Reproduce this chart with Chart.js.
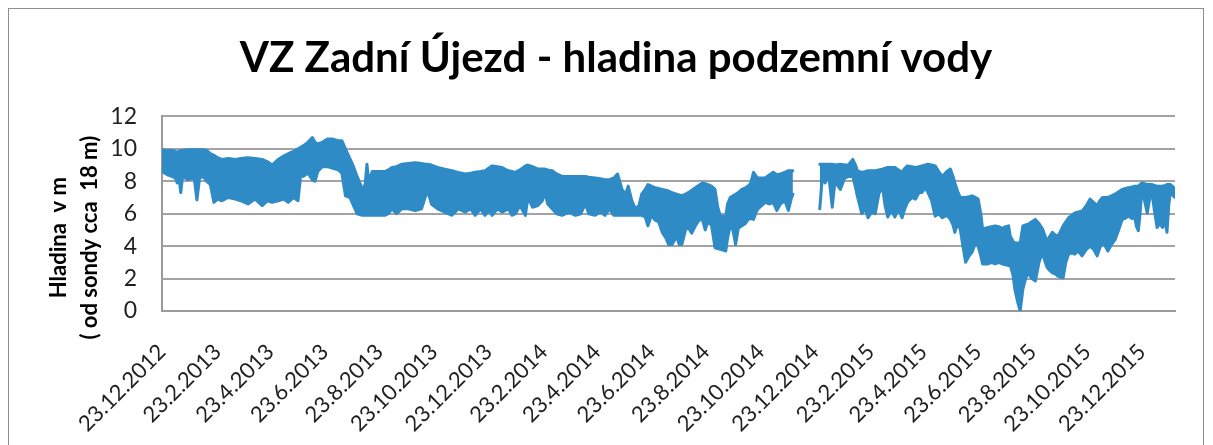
<!DOCTYPE html>
<html>
<head>
<meta charset="utf-8">
<script src="https://cdn.jsdelivr.net/npm/chart.js@4.4.1/dist/chart.umd.min.js"></script>
<style>
  html, body { margin: 0; padding: 0; background: #fff; }
  #wrap { width: 1213px; height: 445px; }
</style>
</head>
<body>
<div id="wrap"><canvas id="hladina" width="1213" height="445"></canvas></div>
<script>
// osa x: popisky po dvou mesicich
var tickLabels = ['23.12.2012', '23.2.2013', '23.4.2013', '23.6.2013', '23.8.2013', '23.10.2013',
    '23.12.2013', '23.2.2014', '23.4.2014', '23.6.2014', '23.8.2014', '23.10.2014',
    '23.12.2014', '23.2.2015', '23.4.2015', '23.6.2015', '23.8.2015', '23.10.2015', '23.12.2015'];

// dny od 23.12.2012, 720 = vypadek mereni
var days = [0, 6, 11, 15, 17, 19, 21, 23, 29, 36, 39, 42, 46, 50, 54, 58, 62, 67, 74, 82,
    88, 96, 104, 112, 118, 123, 130, 136, 141, 147, 152, 155, 158, 163, 168, 171, 174, 179, 185, 191,
    197, 201, 205, 210, 214, 218, 224, 227, 229, 231, 235, 242, 249, 253, 257, 262, 268, 275, 283, 290,
    294, 297, 301, 308, 316, 324, 331, 339, 345, 350, 356, 361, 365, 369, 375, 380, 387, 391, 395, 400,
    406, 409, 414, 420, 425, 428, 431, 436, 441, 447, 455, 462, 468, 473, 477, 484, 490, 495, 500, 505,
    509, 512, 514, 518, 521, 525, 529, 533, 536, 540, 543, 547, 551, 555, 559, 563, 566, 570, 575, 578,
    581, 585, 588, 592, 596, 600, 604, 607, 610, 614, 618, 621, 624, 627, 630, 632, 635, 638, 641, 644,
    648, 652, 655, 658, 661, 664, 666, 670, 674, 679, 683, 687, 691, 696, 700, 703, 705, 720, 735, 738,
    741, 745, 749, 752, 758, 763, 767, 772, 775, 777, 782, 786, 789, 793, 797, 801, 805, 808, 811, 815,
    819, 823, 827, 830, 833, 838, 842, 846, 849, 853, 856, 860, 864, 868, 872, 877, 881, 884, 886, 889,
    892, 895, 898, 902, 905, 909, 912, 915, 917, 923, 927, 931, 935, 939, 943, 946, 948, 951, 953, 956,
    959, 962, 965, 968, 972, 976, 980, 984, 987, 989, 992, 995, 998, 1001, 1004, 1007, 1010, 1013, 1017, 1020,
    1024, 1028, 1033, 1037, 1041, 1045, 1048, 1051, 1054, 1057, 1061, 1065, 1069, 1073, 1076, 1080, 1084, 1087, 1089, 1091,
    1093, 1095, 1098, 1101, 1104, 1106, 1109, 1112, 1115, 1118, 1121, 1123, 1125, 1127, 1130, 1132];

// horni obalka hladiny (m)
var hladinaMax = [9.95, 9.9, 9.9, 9.85, 9.8, 9.85, 9.9, 9.9, 9.95, 9.95, 9.95, 9.95, 9.95, 9.9, 9.7, 9.6, 9.45, 9.35, 9.4, 9.35,
    9.4, 9.45, 9.4, 9.35, 9.2, 9.0, 9.35, 9.55, 9.7, 9.85, 10.0, 10.1, 10.2, 10.4, 10.7, 10.4, 10.3, 10.4, 10.6, 10.6,
    10.5, 10.5, 10.0, 9.4, 8.9, 8.3, 7.5, 7.8, 9.05, 8.0, 8.6, 8.6, 8.6, 8.7, 8.85, 8.9, 9.05, 9.1, 9.15, 9.1,
    9.05, 9.05, 9.0, 8.85, 8.75, 8.65, 8.55, 8.45, 8.5, 8.55, 8.6, 8.65, 8.8, 8.95, 8.9, 8.85, 8.65, 8.6, 8.55, 8.7,
    8.95, 9.0, 8.9, 8.75, 8.75, 8.75, 8.7, 8.65, 8.45, 8.3, 8.3, 8.3, 8.3, 8.3, 8.25, 8.2, 8.15, 8.1, 8.1, 8.2,
    8.45, 7.9, 7.5, 7.2, 7.7, 6.8, 6.3, 6.5, 7.2, 7.5, 7.8, 7.7, 7.6, 7.55, 7.5, 7.45, 7.4, 7.3, 7.2, 7.15,
    7.1, 7.2, 7.3, 7.45, 7.6, 7.75, 7.9, 7.85, 7.8, 7.7, 7.5, 6.4, 5.85, 5.85, 5.85, 6.6, 7.0, 7.1, 7.2, 7.3,
    7.5, 7.6, 7.7, 7.9, 8.55, 8.3, 8.2, 8.2, 8.2, 8.4, 8.55, 8.4, 8.45, 8.55, 8.65, 8.65, 8.65, null, 9.05, 9.05,
    9.05, 9.05, 9.05, 9.0, 9.05, 9.0, 9.0, 9.35, 9.0, 8.65, 8.55, 8.6, 8.65, 8.65, 8.65, 8.7, 8.75, 8.8, 8.85, 8.85,
    8.85, 8.7, 8.55, 8.8, 8.95, 8.9, 8.85, 8.9, 8.95, 9.0, 9.05, 9.0, 8.95, 8.6, 8.3, 8.6, 8.75, 8.3, 7.9, 7.4,
    7.0, 7.0, 7.0, 7.05, 7.1, 7.0, 6.9, 6.0, 5.05, 5.15, 5.2, 5.25, 5.2, 5.1, 5.2, 5.25, 4.6, 4.3, 4.2, 4.2,
    4.2, 5.25, 5.3, 5.35, 5.5, 5.65, 5.4, 5.05, 4.6, 4.3, 4.6, 4.85, 4.7, 4.6, 4.9, 5.25, 5.5, 5.75, 5.9, 6.05,
    6.1, 6.15, 6.5, 6.9, 6.7, 6.5, 6.8, 7.0, 7.0, 7.0, 7.1, 7.2, 7.35, 7.5, 7.55, 7.6, 7.65, 7.7, 7.7, 7.7,
    7.8, 7.9, 7.85, 7.8, 7.8, 7.8, 7.75, 7.7, 7.7, 7.7, 7.75, 7.8, 7.8, 7.8, 7.65, 7.5];

// dolni obalka hladiny (m)
var hladinaMin = [8.6, 8.4, 8.3, 8.2, 7.9, 8.2, 7.3, 8.3, 8.1, 8.2, 6.85, 8.2, 8.3, 8.0, 7.8, 6.7, 6.9, 6.8, 7.0, 6.9,
    6.8, 6.6, 6.9, 6.5, 6.8, 6.7, 6.8, 6.9, 6.7, 7.0, 6.8, 8.4, 8.3, 8.5, 8.1, 8.0, 8.6, 8.9, 8.9, 8.8,
    8.7, 8.5, 7.1, 7.0, 6.5, 6.0, 5.9, 5.9, 5.9, 5.9, 5.9, 5.9, 5.9, 6.0, 6.3, 6.0, 6.3, 6.3, 6.2, 6.3,
    7.0, 7.4, 6.6, 6.3, 6.1, 5.9, 6.3, 6.1, 6.3, 5.9, 6.3, 5.9, 6.2, 5.9, 6.3, 6.1, 6.3, 5.9, 6.0, 6.5,
    5.9, 7.0, 6.4, 6.5, 6.8, 7.3, 6.6, 6.3, 6.0, 5.9, 6.1, 5.9, 6.0, 6.6, 6.0, 5.9, 6.1, 5.9, 6.3, 5.9,
    5.9, 5.9, 5.9, 5.9, 5.9, 5.9, 5.9, 5.9, 5.9, 5.8, 5.25, 5.9, 5.6, 5.5, 4.85, 4.5, 4.1, 4.1, 4.6, 4.1,
    4.1, 5.0, 5.15, 4.8, 5.25, 5.6, 5.65, 5.0, 5.5, 5.3, 3.9, 3.85, 3.8, 3.75, 3.7, 4.5, 5.25, 5.0, 4.1, 5.1,
    5.25, 5.4, 5.65, 5.7, 5.65, 6.1, 6.3, 6.5, 6.7, 6.6, 6.7, 6.2, 6.6, 6.8, 6.2, 6.9, 7.2, null, 6.3, 8.3,
    7.9, 8.4, 6.4, 8.0, 7.5, 8.2, 8.3, 8.3, 7.6, 7.1, 6.0, 6.3, 5.75, 6.1, 6.0, 7.2, 7.7, 6.5, 5.8, 6.2,
    5.8, 6.3, 5.75, 6.3, 6.7, 7.0, 6.9, 7.3, 7.3, 7.6, 7.3, 6.8, 5.85, 6.0, 5.75, 5.9, 5.65, 5.3, 4.85, 5.4,
    5.05, 4.0, 3.0, 3.4, 3.6, 4.2, 4.0, 3.4, 2.9, 2.9, 3.0, 2.9, 3.0, 2.9, 2.85, 2.8, 2.8, 2.2, 1.35, 0.6,
    0.0, 1.35, 2.0, 2.35, 2.0, 1.85, 3.0, 3.6, 3.0, 2.7, 2.5, 2.35, 2.3, 2.15, 2.1, 2.05, 3.0, 3.5, 3.6, 3.5,
    3.7, 3.4, 3.8, 4.0, 3.8, 3.4, 3.9, 4.2, 4.0, 3.7, 4.1, 4.4, 5.0, 5.65, 5.7, 5.85, 5.7, 5.75, 5.2, 4.95,
    6.0, 7.5, 6.8, 6.05, 7.0, 7.4, 6.2, 5.15, 5.4, 5.15, 5.5, 4.85, 6.5, 7.4, 7.1, 7.0];

function dayOf(s) {
    var p = s.split('.');
    return Math.round((Date.UTC(+p[2], +p[1] - 1, +p[0]) - Date.UTC(2012, 11, 23)) / 86400000);
}
var tickDays = tickLabels.map(dayOf);

var barva = '#2e8bc6';
var pointsMax = [];
var pointsMin = [];
for (var i = 0; i < days.length; i++) {
    pointsMax.push({ x: days[i], y: hladinaMax[i] });
    pointsMin.push({ x: days[i], y: hladinaMin[i] });
}

var ramecek = {
    id: 'ramecek',
    beforeDraw: function (chart) {
        var ctx = chart.ctx;
        ctx.save();
        ctx.fillStyle = '#fff';
        ctx.fillRect(0, 0, chart.width, chart.height);
        ctx.strokeStyle = '#8e8e8e';
        ctx.lineWidth = 1;
        ctx.strokeRect(8.5, 8.5, 1195, 460);
        ctx.restore();
    },
    afterDraw: function (chart) {
        // popisek osy y na dva radky
        var ctx = chart.ctx;
        var stred = (chart.chartArea.top + chart.chartArea.bottom) / 2 + 24;
        ctx.save();
        ctx.fillStyle = '#000';
        ctx.font = 'bold 22px Lato';
        ctx.textAlign = 'center';
        ctx.textBaseline = 'middle';
        ctx.translate(59, stred);
        ctx.rotate(-Math.PI / 2);
        ctx.fillText('Hladina  v m', 0, 0);
        ctx.fillText('( od sondy cca  18 m)', 0, 31);
        ctx.restore();
    }
};

new Chart(document.getElementById('hladina'), {
    type: 'line',
    data: {
        datasets: [
            {
                label: 'max',
                data: pointsMax,
                borderColor: barva,
                borderWidth: 3,
                borderJoinStyle: 'round',
                borderCapStyle: 'round',
                pointRadius: 0,
                spanGaps: false,
                fill: false
            },
            {
                label: 'min',
                data: pointsMin,
                borderColor: barva,
                backgroundColor: barva,
                borderWidth: 3,
                borderJoinStyle: 'round',
                borderCapStyle: 'round',
                pointRadius: 0,
                spanGaps: false,
                fill: '-1'
            }
        ]
    },
    options: {
        responsive: false,
        animation: false,
        layout: { padding: { left: 57, right: 38, top: 0, bottom: 0 } },
        plugins: {
            legend: { display: false },
            tooltip: { enabled: false },
            title: {
                display: true,
                text: 'VZ Zadní Újezd - hladina podzemní vody',
                color: '#000',
                font: { family: 'Lato', size: 42, weight: 'bold', lineHeight: 1.2 },
                padding: { top: 33, bottom: 33 }
            }
        },
        scales: {
            x: {
                type: 'linear',
                min: 0,
                max: 1132,
                afterBuildTicks: function (scale) {
                    scale.ticks = tickDays.map(function (d) { return { value: d }; });
                },
                afterFit: function (scale) { scale.height = 134; },
                grid: { display: false, drawTicks: false },
                border: { display: true, color: '#9a9a9a', width: 2 },
                ticks: {
                    autoSkip: false,
                    minRotation: 45,
                    maxRotation: 45,
                    padding: 28,
                    color: '#1f1f1f',
                    font: { family: 'Lato', size: 22 },
                    callback: function (v, idx) { return tickLabels[idx]; }
                }
            },
            y: {
                min: 0,
                max: 12,
                afterFit: function (scale) { scale.width = 105; },
                grid: { color: '#a3a3a3', lineWidth: 2, drawTicks: false },
                border: { display: true, color: '#9a9a9a', width: 2 },
                ticks: {
                    stepSize: 2,
                    padding: 25,
                    color: '#1f1f1f',
                    font: { family: 'Lato', size: 23 }
                }
            }
        }
    },
    plugins: [ramecek]
});
</script>
</body>
</html>
